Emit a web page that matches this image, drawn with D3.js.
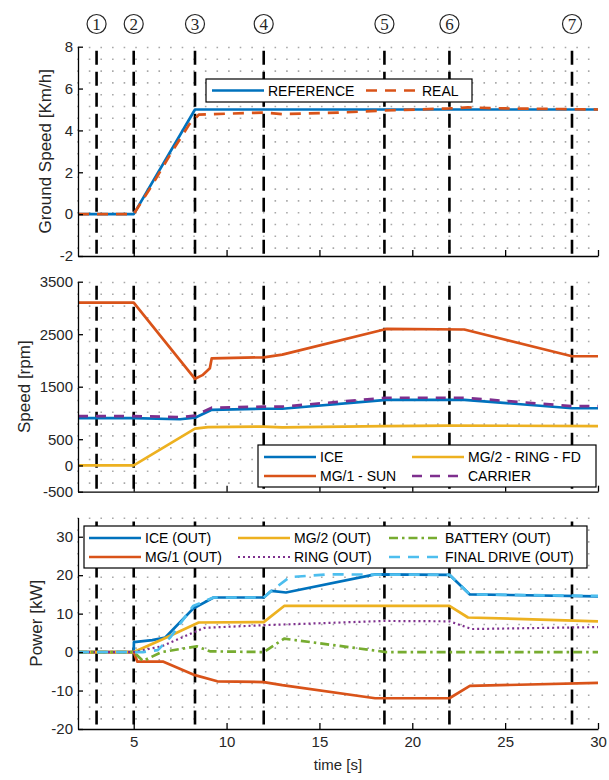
<!DOCTYPE html>
<html lang="en">
<head>
<meta charset="UTF-8">
<title>Ground speed, speed and power</title>
<script src="https://d3js.org/d3.v7.min.js"></script>
<style>
    body{ margin:0; background:#fff; }
    text{ font-family:"Liberation Sans", Arial, sans-serif; fill:#262626; }
    .axis path, .axis line{ stroke:#000; stroke-width:1.3; }
    .axis text{ font-size:15px; fill:#262626; }
    .lgd text{ font-size:14px; fill:#000; }
</style>
</head>
<body>
<svg width="609" height="780"></svg>
<script>
// event markers (time in s)
const events = [3, 5, 8.3, 12, 18.5, 22, 28.6];
const eventLabels = ["1", "2", "3", "4", "5", "6", "7"];
const xTicks = [5, 10, 15, 20, 25, 30];

// ground speed [km/h]
const tRef = [2, 5, 8.3, 30];
const vRef = [0, 0, 5, 5];
const tReal = [2, 5, 6, 7, 8, 8.5, 10, 12, 13, 14, 16, 18.5, 22, 23, 25, 30];
const vReal = [0, 0, 1.4, 2.9, 4.3, 4.75, 4.8, 4.85, 4.78, 4.8, 4.85, 4.95, 5.05, 5.1, 5.05, 5.0];

// speed [rpm]
const tIce = [2, 5, 7.5, 8.3, 9.2, 12, 13, 18.6, 22.8, 28.6, 30];
const rpmIce = [900, 900, 880, 910, 1060, 1080, 1080, 1250, 1250, 1090, 1090];
const rpmCarrier = [940, 940, 920, 950, 1100, 1120, 1120, 1290, 1290, 1130, 1130];
const tSun = [2, 5, 8.3, 8.7, 9.1, 9.2, 12, 13, 18.6, 22.8, 28.6, 30];
const rpmSun = [3100, 3100, 1650, 1720, 1850, 2040, 2060, 2110, 2600, 2590, 2080, 2080];
const tRingFd = [2, 5, 8.3, 9, 12, 13, 18.5, 22, 30];
const rpmRingFd = [0, 0, 700, 730, 740, 725, 750, 760, 750];

// power [kW]
const tPIce = [2, 5, 5.01, 6, 6.7, 8.2, 9.3, 12, 12.4, 13.2, 18, 22, 23.1, 30];
const pIce = [0, 0, 2.6, 3.1, 3.8, 11.3, 14.2, 14.2, 15.9, 15.5, 20.2, 20.1, 15, 14.5];
const tPMg1 = [2, 5, 5.2, 6.6, 8.3, 9.5, 12, 13, 18, 22, 23.1, 30];
const pMg1 = [0, 0, -2.5, -2.5, -6, -7.6, -7.8, -8.6, -12, -12, -8.8, -8];
const tPMg2 = [2, 5, 6.5, 8.5, 12, 13.1, 22, 23, 30];
const pMg2 = [0, 0, 3.2, 7.7, 7.8, 12, 12, 9, 8];
const tPRing = [2, 5, 6.5, 8.8, 12, 15, 18.5, 22, 23.2, 30];
const pRing = [0, 0, 1.5, 6.3, 7, 7.5, 8.1, 8, 6, 6.5];
const tPBat = [2, 5, 5.5, 6.5, 8.4, 9.1, 12, 13.1, 18.6, 30];
const pBat = [0, 0, -2.3, 0, 1.5, 0.2, 0, 3.5, 0, 0];
const tPFd = [2, 5.5, 6.3, 7, 8.2, 9.3, 12, 12.3, 13.4, 15.5, 22, 23.1, 30];
const pFd = [0, 0, 0.5, 4, 12, 14.2, 14.2, 15.5, 19.5, 20.2, 20.1, 15, 14.6];

const C = {blue:"#0072BD", orange:"#D95319", yellow:"#EDB120", purple:"#7E2F8E", green:"#77AC30", cyan:"#4DBEEE"};

const svg = d3.select("svg");
svg.append("rect").attr("width", 609).attr("height", 780).attr("fill", "#fff");

const x = d3.scaleLinear().domain([2, 30]).range([78, 598]);
const zip = (t, v) => t.map((d, i) => [d, v[i]]);
const plain = d => String(d);

function panel(cfg){
    const y = d3.scaleLinear().domain(cfg.domain).range([cfg.bottom, cfg.top]);
    const g = svg.append("g");

    // dotted grid texture
    const gridX = d3.range(2, 30.01, 0.625);
    g.selectAll(".grid").data(gridX).join("line")
        .attr("x1", d => x(d)).attr("x2", d => x(d))
        .attr("y1", cfg.top).attr("y2", cfg.bottom)
        .attr("stroke", "#a8a8a8").attr("stroke-width", 1.6)
        .attr("stroke-dasharray", "1.6,10.2");

    // event lines
    g.selectAll(".ev").data(events).join("line")
        .attr("x1", d => x(d)).attr("x2", d => x(d))
        .attr("y1", cfg.top + 4).attr("y2", cfg.bottom)
        .attr("stroke", "#000").attr("stroke-width", 2.6)
        .attr("stroke-dasharray", "14,7");

    const line = d3.line().x(d => x(d[0])).y(d => y(d[1]));
    cfg.series.forEach(s => {
        g.append("path").attr("d", line(zip(s.t, s.v)))
            .attr("fill", "none").attr("stroke", s.color)
            .attr("stroke-width", s.width || 2.7)
            .attr("stroke-dasharray", s.dash || null)
            .attr("stroke-linejoin", "round");
    });

    g.append("g").attr("class", "axis")
        .attr("transform", `translate(78,0)`)
        .call(d3.axisLeft(y).tickValues(cfg.ticks).tickFormat(plain)
            .tickSizeInner(-5).tickSizeOuter(0).tickPadding(5));
    g.append("g").attr("class", "axis")
        .attr("transform", `translate(0,${cfg.bottom})`)
        .call(d3.axisBottom(x).tickValues(xTicks).tickSizeInner(-6).tickSizeOuter(0).tickPadding(7)
            .tickFormat(cfg.xlabels ? plain : ""));

    g.append("text")
        .attr("transform", `translate(${cfg.labelX},${(cfg.top + cfg.bottom) / 2}) rotate(-90)`)
        .attr("text-anchor", "middle").attr("dy", "0.35em")
        .attr("font-size", 17).text(cfg.label);

    // legend
    const lg = g.append("g").attr("class", "lgd");
    lg.append("rect").attr("x", cfg.legend.x).attr("y", cfg.legend.y)
        .attr("width", cfg.legend.w).attr("height", cfg.legend.h)
        .attr("fill", "#fff").attr("stroke", "#000").attr("stroke-width", 1.2);
    cfg.series.forEach((s, i) => {
        const col = Math.floor(i / cfg.legend.rows), row = i % cfg.legend.rows;
        const lx = cfg.legend.cols[col], ly = cfg.legend.y + cfg.legend.rowY[row];
        lg.append("line").attr("x1", lx).attr("x2", lx + 52).attr("y1", ly).attr("y2", ly)
            .attr("stroke", s.color).attr("stroke-width", s.width || 2.7)
            .attr("stroke-dasharray", s.dash || null);
        lg.append("text").attr("x", lx + 56).attr("y", ly).attr("dy", "0.36em").text(s.name);
    });
    return y;
}

panel({
    top: 46.7, bottom: 256, domain: [-2, 8], ticks: [-2, 0, 2, 4, 6, 8],
    label: "Ground Speed [Km/h]", labelX: 45,
    series: [
        {name: "REFERENCE", t: tRef, v: vRef, color: C.blue},
        {name: "REAL", t: tReal, v: vReal, color: C.orange, dash: "11,8"}
    ],
    legend: {x: 206, y: 79, w: 266, h: 23, rows: 1, rowY: [11.5], cols: [212, 366]}
});

panel({
    top: 281.7, bottom: 491.7, domain: [-500, 3500], ticks: [-500, 0, 500, 1500, 2500, 3500],
    label: "Speed [rpm]", labelX: 24,
    series: [
        {name: "ICE", t: tIce, v: rpmIce, color: C.blue},
        {name: "MG/1 - SUN", t: tSun, v: rpmSun, color: C.orange},
        {name: "MG/2 - RING - FD", t: tRingFd, v: rpmRingFd, color: C.yellow},
        {name: "CARRIER", t: tIce, v: rpmCarrier, color: C.purple, dash: "10,8"}
    ],
    legend: {x: 258, y: 445, w: 338, h: 42, rows: 2, rowY: [12, 31], cols: [264, 412]}
});

panel({
    top: 517.5, bottom: 729, domain: [-20, 35], ticks: [-20, -10, 0, 10, 20, 30],
    label: "Power [kW]", labelX: 36, xlabels: true,
    series: [
        {name: "ICE (OUT)", t: tPIce, v: pIce, color: C.blue},
        {name: "MG/1 (OUT)", t: tPMg1, v: pMg1, color: C.orange},
        {name: "MG/2 (OUT)", t: tPMg2, v: pMg2, color: C.yellow},
        {name: "RING (OUT)", t: tPRing, v: pRing, color: C.purple, dash: "2,3", width: 2.2},
        {name: "BATTERY (OUT)", t: tPBat, v: pBat, color: C.green, dash: "9,4,2.5,4"},
        {name: "FINAL DRIVE (OUT)", t: tPFd, v: pFd, color: C.cyan, dash: "11,8"}
    ],
    legend: {x: 84, y: 526, w: 503, h: 42, rows: 2, rowY: [12, 31], cols: [89, 238, 389]}
});

svg.append("text").attr("x", x(16)).attr("y", 770).attr("text-anchor", "middle")
    .attr("font-size", 15).text("time [s]");

// circled event numbers
const mk = svg.append("g").selectAll("g").data(events).join("g")
    .attr("transform", d => `translate(${x(d)},24)`);
mk.append("circle").attr("r", 9.5).attr("fill", "none").attr("stroke", "#262626").attr("stroke-width", 1.2);
mk.append("text").attr("text-anchor", "middle").attr("dy", "0.36em")
    .style("font-family", "'Liberation Serif', serif").attr("font-size", 17)
    .text((d, i) => eventLabels[i]);
</script>
</body>
</html>
